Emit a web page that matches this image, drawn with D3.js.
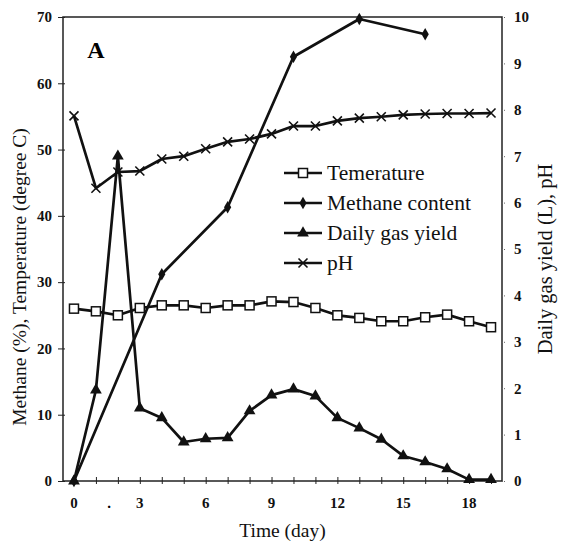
<!DOCTYPE html>
<html>
<head>
<meta charset="utf-8">
<script src="https://cdn.jsdelivr.net/npm/d3@7"></script>
<style>
  html, body { margin: 0; padding: 0; background: #fff; }
  svg { display: block; font-family: "Liberation Serif", "Times New Roman", serif; }
</style>
</head>
<body>
<svg id="chart" width="561" height="546"></svg>
<script>
// Anaerobic digestion run A: daily readings
const days = d3.range(0, 20);
const temperature = [26.0, 25.6, 25.0, 26.1, 26.5, 26.5, 26.1, 26.5, 26.5, 27.1, 27.0, 26.1, 25.0, 24.6, 24.1, 24.1, 24.7, 25.1, 24.1, 23.2];
const methaneDays = [0, 4, 7, 10, 13, 16];
const methane = [0, 31.2, 41.3, 64.0, 69.7, 67.4];
const gasYield = [0, 1.96, 7.0, 1.57, 1.36, 0.84, 0.91, 0.93, 1.51, 1.85, 1.98, 1.83, 1.36, 1.14, 0.9, 0.54, 0.41, 0.26, 0.03, 0.03];
const pH = [7.87, 6.31, 6.66, 6.68, 6.94, 7.0, 7.16, 7.31, 7.37, 7.48, 7.65, 7.65, 7.76, 7.82, 7.85, 7.89, 7.91, 7.92, 7.92, 7.93];

const xTickDays = [0, 3, 6, 9, 12, 15, 18];
const leftTicks = [0, 10, 20, 30, 40, 50, 60, 70];
const rightTicks = [0, 1, 2, 3, 4, 5, 6, 7, 8, 9, 10];
const legendLabels = ["Temerature", "Methane content", "Daily gas yield", "pH"];

const svg = d3.select("#chart");
const plot = { left: 63, right: 502, top: 17, bottom: 481 };

const x = d3.scaleLinear().domain([-0.5, 19.5]).range([plot.left, plot.right]);
const yL = d3.scaleLinear().domain([0, 70]).range([plot.bottom, plot.top]);
const yR = d3.scaleLinear().domain([0, 10]).range([plot.bottom, plot.top]);

// Frame
svg.append("rect")
  .attr("x", plot.left).attr("y", plot.top)
  .attr("width", plot.right - plot.left).attr("height", plot.bottom - plot.top)
  .attr("fill", "none").attr("stroke", "#222").attr("stroke-width", 1.5);

// Left axis
const leftAxis = svg.append("g").attr("transform", `translate(${plot.left},0)`)
  .call(d3.axisLeft(yL).tickValues(leftTicks).tickSize(5).tickPadding(6).tickFormat(d3.format("d")));
leftAxis.select(".domain").remove();
leftAxis.selectAll(".tick line").attr("stroke", "#222").attr("x2", -5).attr("x1", 2);
leftAxis.selectAll("text").attr("font-family", "Liberation Serif").attr("font-size", 15).attr("font-weight", "bold").attr("fill", "#111");

// Right axis
const rightAxis = svg.append("g").attr("transform", `translate(${plot.right},0)`)
  .call(d3.axisRight(yR).tickValues(rightTicks).tickSize(4).tickPadding(8).tickFormat(d3.format("d")));
rightAxis.select(".domain").remove();
rightAxis.selectAll(".tick line").attr("stroke", "#666").attr("stroke-dasharray", "1,1");
rightAxis.selectAll("text").attr("font-family", "Liberation Serif").attr("font-size", 15).attr("font-weight", "bold").attr("fill", "#111");

// Bottom axis: a tick each day, labels every third day
const bottomAxis = svg.append("g").attr("transform", `translate(0,${plot.bottom})`)
  .call(d3.axisBottom(x).tickValues(days).tickSize(0).tickFormat(""));
bottomAxis.select(".domain").remove();
bottomAxis.selectAll(".tick line").attr("y1", -4).attr("y2", 3).attr("stroke", "#222");
svg.append("g").selectAll("text").data(xTickDays).join("text")
  .attr("x", d => x(d)).attr("y", plot.bottom + 27)
  .attr("text-anchor", "middle")
  .attr("font-size", 15).attr("font-weight", "bold").attr("fill", "#111")
  .text(d => d);
svg.append("text").attr("x", x(1.6)).attr("y", plot.bottom + 27)
  .attr("text-anchor", "middle").attr("font-size", 15).attr("font-weight", "bold").text(".");

// Axis titles
svg.append("text").attr("x", (plot.left + plot.right) / 2 + 0).attr("y", 537)
  .attr("text-anchor", "middle").attr("font-size", 19.5).attr("fill", "#111").text("Time (day)");
svg.append("text").attr("transform", `translate(26,${(plot.top + plot.bottom) / 2 + 28}) rotate(-90)`)
  .attr("text-anchor", "middle").attr("font-size", 19.5).attr("fill", "#111")
  .text("Methane (%), Temperature (degree C)");
svg.append("text").attr("transform", `translate(552,${(plot.top + plot.bottom) / 2 + 10}) rotate(-90)`)
  .attr("text-anchor", "middle").attr("font-size", 20.5).attr("fill", "#111")
  .text("Daily gas yield (L), pH");

// Panel letter
svg.append("text").attr("x", 96).attr("y", 58).attr("text-anchor", "middle")
  .attr("font-size", 24).attr("font-weight", "bold").text("A");

// Marker drawing helpers
const markers = {
  square: g => g.append("rect").attr("x", -4.5).attr("y", -4.5).attr("width", 9).attr("height", 9)
    .attr("fill", "#fff").attr("stroke", "#111").attr("stroke-width", 1.5),
  diamond: g => g.append("path").attr("d", d3.symbol().type(d3.symbolDiamond).size(45)).attr("fill", "#111"),
  triangle: g => g.append("path").attr("d", d3.symbol().type(d3.symbolTriangle).size(60)).attr("fill", "#111"),
  cross: g => g.append("path").attr("d", "M-4.5,-4.5L4.5,4.5M-4.5,4.5L4.5,-4.5")
    .attr("stroke", "#111").attr("stroke-width", 1.6).attr("fill", "none")
};

function drawSeries(xs, ys, yScale, marker) {
  const pts = xs.map((d, i) => [x(d), yScale(ys[i])]);
  svg.append("path").datum(pts)
    .attr("d", d3.line())
    .attr("fill", "none").attr("stroke", "#111").attr("stroke-width", 2.7).attr("stroke-linejoin", "round");
  svg.append("g").selectAll("g").data(pts).join("g")
    .attr("transform", d => `translate(${d[0]},${d[1]})`)
    .each(function() { markers[marker](d3.select(this)); });
}

drawSeries(days, pH, yR, "cross");
drawSeries(days, gasYield, yR, "triangle");
drawSeries(methaneDays, methane, yL, "diamond");
drawSeries(days, temperature, yL, "square");

// Legend
const legendKeys = ["square", "diamond", "triangle", "cross"];
const legend = svg.append("g");
legendLabels.forEach((label, i) => {
  const cy = 173 + i * 30;
  legend.append("line").attr("x1", 284).attr("x2", 322).attr("y1", cy).attr("y2", cy)
    .attr("stroke", "#111").attr("stroke-width", 2.4);
  const m = legend.append("g").attr("transform", `translate(303,${cy})`);
  markers[legendKeys[i]](m);
  legend.append("text").attr("x", 327).attr("y", cy + 7)
    .attr("font-size", 21.5).attr("fill", "#111").text(label);
});
</script>
</body>
</html>
